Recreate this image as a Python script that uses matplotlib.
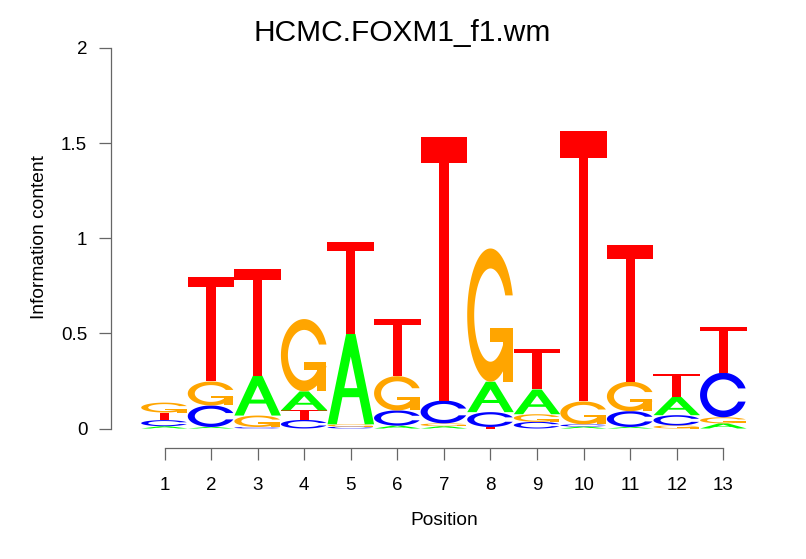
import matplotlib
matplotlib.use("Agg")
import numpy as np
import matplotlib.pyplot as plt
from matplotlib.patches import Polygon

# ---- data (information content per letter, per position) ----
positions = list(range(1, 14))
heights_A = [0.012, 0.008, 0.210, 0.100, 0.475, 0.015, 0.012, 0.160, 0.130, 0.010, 0.008, 0.096, 0.027]
heights_C = [0.032, 0.113, 0.008, 0.045, 0.010, 0.080, 0.120, 0.078, 0.035, 0.012, 0.083, 0.054, 0.234]
heights_G = [0.052, 0.126, 0.060, 0.380, 0.012, 0.180, 0.015, 0.700, 0.040, 0.120, 0.155, 0.016, 0.032]
heights_T = [0.040, 0.550, 0.560, 0.050, 0.485, 0.300, 1.386, 0.008, 0.214, 1.420, 0.718, 0.120, 0.242]
letters = ["A", "C", "G", "T"]
letter_colors = {"A": "#00FF00", "C": "#0000FF", "G": "#FFA500", "T": "#FF0000"}
yticks = [0, 0.5, 1, 1.5, 2]
ytick_labels = ["0", "0.5", "1", "1.5", "2"]
title = "HCMC.FOXM1_f1.wm"
xlabel = "Position"
ylabel = "Information content"


# ---- letter outlines in a unit box (seqLogo style) ----
def ring_outline():
    a1 = np.linspace(0.3 + np.pi / 2, np.pi, 100)
    a2 = np.linspace(np.pi, 1.5 * np.pi, 100)
    xl1, yl1 = 0.5 + 0.5 * np.sin(a1), 0.5 + 0.5 * np.cos(a1)
    xl2, yl2 = 0.5 + 0.5 * np.sin(a2), 0.5 + 0.5 * np.cos(a2)
    xl, yl = np.r_[xl1, xl2], np.r_[yl1, yl2]
    x = np.r_[xl, xl[::-1]]
    y = np.r_[yl, 1 - yl[::-1]]
    xi1, yi1 = 0.5 + 0.35 * np.sin(a1), 0.5 + 0.35 * np.cos(a1)
    keep = yi1 <= yl1.max()
    xi1, yi1 = xi1[keep], yi1[keep].copy()
    yi1[0] = yl1.max()
    xi2, yi2 = 0.5 + 0.35 * np.sin(a2), 0.5 + 0.35 * np.cos(a2)
    xi, yi = np.r_[xi1, xi2], np.r_[yi1, yi2]
    x1 = np.r_[xi, xi[::-1]]
    y1 = np.r_[yi, 1 - yi[::-1]]
    x = np.r_[x, x1[::-1]]
    y = np.r_[y, y1[::-1]]
    return np.c_[x, y], xl1.max()


_ring, _r1 = ring_outline()
shapes = {
    "A": [(np.c_[[0, 4, 6, 10, 8, 6.8, 3.2, 2, 0], [0, 10, 10, 0, 0, 3, 3, 0, 0]] * 0.1, None),
          (np.c_[[3.6, 5, 6.4, 3.6], [4, 7.5, 4, 4]] * 0.1, "white")],
    "C": [(_ring, None)],
    "G": [(_ring, None),
          (np.c_[[_r1, 0.5, 0.5, _r1 - 0.2, _r1 - 0.2, _r1, _r1],
                 [0.4, 0.4, 0.3, 0.3, 0, 0, 0.4]], None)],
    "T": [(np.c_[[0, 10, 10, 6, 6, 4, 4, 0], [10, 10, 9, 9, 0, 0, 9, 9]] * 0.1, None)],
}

W, H = 806, 559
fig = plt.figure(figsize=(W / 100, H / 100), dpi=100)
left_px, right_px, top_px, bot_px = 111, 760, 40, 465
ax = fig.add_axes([left_px / W, 1 - bot_px / H, (right_px - left_px) / W, (bot_px - top_px) / H])

x1_px, dx_px = 164.5, 46.57
y0_px, dy_px = 428.5, 190.3
ax.set_xlim(1 + (left_px - x1_px) / dx_px, 1 + (right_px - x1_px) / dx_px)
ax.set_ylim(-(bot_px - y0_px) / dy_px, (y0_px - top_px) / dy_px)


def draw_letter(L, xc, ybot, h, width=1.0):
    if h <= 0:
        return
    for pts, fc in shapes[L]:
        xy = np.c_[xc - width / 2 + width * pts[:, 0], ybot + h * pts[:, 1]]
        ax.add_patch(Polygon(xy, closed=True, facecolor=fc or letter_colors[L],
                             edgecolor="none", lw=0))


table = {"A": heights_A, "C": heights_C, "G": heights_G, "T": heights_T}
for i, pos in enumerate(positions):
    col = sorted(letters, key=lambda L: table[L][i])
    y = 0.0
    for L in col:
        h = table[L][i]
        draw_letter(L, pos, y, h)
        y += h

# axes styling
axis_col = "#666666"
for s in ["top", "right"]:
    ax.spines[s].set_visible(False)
ax.spines["left"].set_position(("axes", 0))
ax.spines["left"].set_bounds(0, 2)
ax.spines["bottom"].set_position(("data", -(447.7 - y0_px) / dy_px))
ax.spines["bottom"].set_bounds(1, 13)
for s in ["left", "bottom"]:
    ax.spines[s].set_color(axis_col)
    ax.spines[s].set_linewidth(0.9)

ax.set_xticks(positions)
ax.set_xticklabels([str(p) for p in positions])
ax.set_yticks(yticks)
ax.set_yticklabels(ytick_labels)
ax.tick_params(axis="both", direction="out", length=8.6, width=0.9, color=axis_col,
               labelsize=13.5, labelcolor="black")
ax.tick_params(axis="y", pad=8.5)
ax.tick_params(axis="x", pad=12.5)
for lab in ax.get_xticklabels() + ax.get_yticklabels():
    lab.set_family("Liberation Sans")

fig.text(402 / W, 1 - 40.7 / H, title, ha="center", va="baseline",
         fontsize=21.5, family="Liberation Sans")
fig.text(444.5 / W, 1 - 520.7 / H, xlabel, ha="center", va="center",
         fontsize=13.8, family="Liberation Sans")
fig.text(40 / W, 1 - 237.5 / H, ylabel, ha="center", va="center", rotation=90,
         fontsize=13.8, family="Liberation Sans")

fig.savefig("out.png", dpi=100)
